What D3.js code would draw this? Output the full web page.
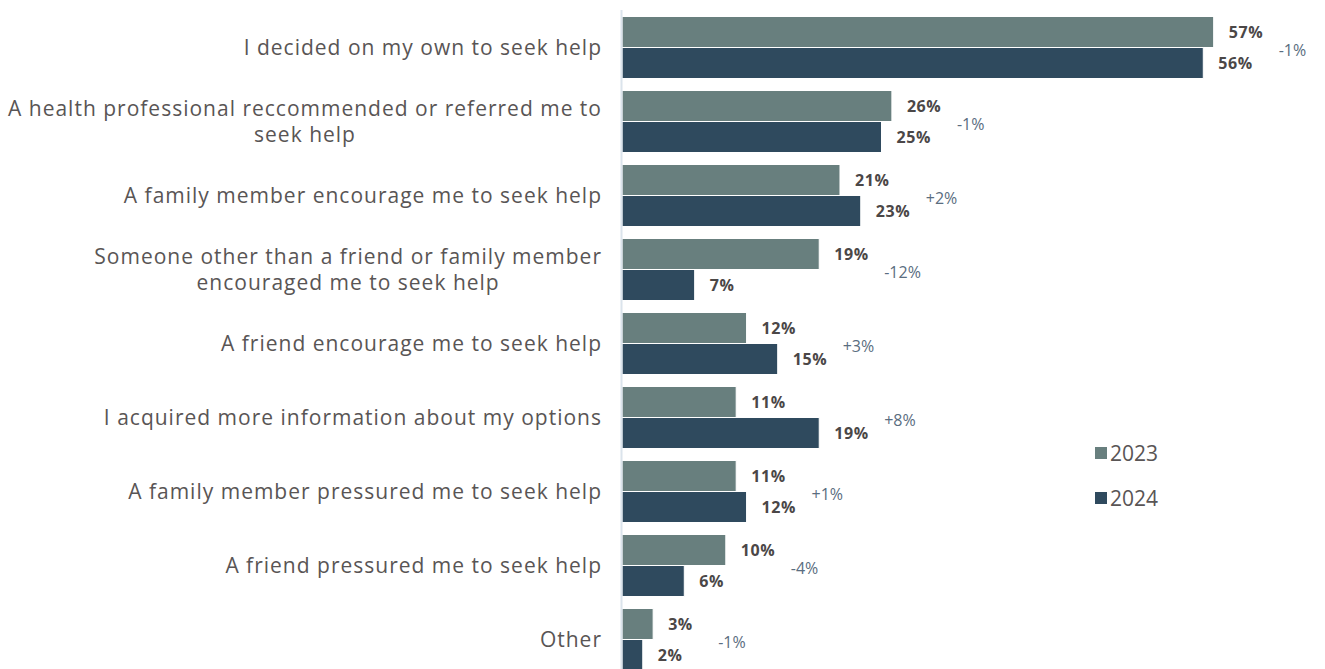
<!DOCTYPE html>
<html>
<head>
<meta charset="utf-8">
<script src="https://cdn.jsdelivr.net/npm/d3@7/dist/d3.min.js"></script>
<style>
  html, body { margin: 0; padding: 0; background: #fff; }
  svg { display: block; font-family: "Open Sans", "DejaVu Sans", sans-serif; }
</style>
</head>
<body>
<svg id="chart" width="1325" height="669"></svg>
<script>
// Reasons for seeking help, share of respondents by survey year
const categories = [
  "I decided on my own to seek help",
  "A health professional reccommended or referred me to\nseek help",
  "A family member encourage me to seek help",
  "Someone other than a friend or family member\nencouraged me to seek help",
  "A friend encourage me to seek help",
  "I acquired more information about my options",
  "A family member pressured me to seek help",
  "A friend pressured me to seek help",
  "Other"
];
const years = ["2023", "2024"];
const values2023 = [57, 26, 21, 19, 12, 11, 11, 10, 3];
const values2024 = [56, 25, 23, 7, 15, 19, 12, 6, 2];
const changeLabels = ["-1%", "-1%", "+2%", "-12%", "+3%", "+8%", "+1%", "-4%", "-1%"];

const colors = { "2023": "#687f7e", "2024": "#2f4a5e" };

const svg = d3.select("#chart");
const plotLeft = 622, plotTop = 10.5, rowStep = 74, labelRight = 602;

const x = d3.scaleLinear().domain([0, 10]).range([plotLeft, plotLeft + 103.8]);
const y = d3.scaleBand()
  .domain(categories)
  .range([plotTop, plotTop + rowStep * categories.length])
  .paddingInner(12 / 74)
  .paddingOuter(6 / 74);
const ySub = d3.scaleBand().domain(years).range([0, y.bandwidth()]);

const rows = categories.map((c, i) => ({
  cat: c,
  vals: [{ year: "2023", v: values2023[i] }, { year: "2024", v: values2024[i] }],
  change: changeLabels[i]
}));

const g = svg.selectAll("g.row").data(rows).join("g")
  .attr("class", "row")
  .attr("transform", d => `translate(0,${y(d.cat)})`);

// bars
g.selectAll("rect").data(d => d.vals).join("rect")
  .attr("x", x(0))
  .attr("y", d => ySub(d.year))
  .attr("width", d => x(d.v) - x(0))
  .attr("height", ySub.bandwidth())
  .attr("fill", d => colors[d.year])
  .attr("stroke", "#ffffff")
  .attr("stroke-width", 1);

// value labels
g.selectAll("text.val").data(d => d.vals).join("text")
  .attr("class", "val")
  .attr("x", d => x(d.v) + 15)
  .attr("y", d => ySub(d.year) + ySub.bandwidth() / 2)
  .attr("dy", "0.36em")
  .attr("font-size", 16)
  .attr("font-weight", 700)
  .attr("letter-spacing", 0.6)
  .attr("fill", "#4b4747")
  .text(d => d.v + "%");

// year-over-year change
g.append("text")
  .attr("x", d => x(Math.max(d.vals[0].v, d.vals[1].v)) + 65)
  .attr("y", y.bandwidth() / 2 + 3)
  .attr("dy", "0.36em")
  .attr("font-size", 16)
  .attr("fill", "#5a6d80")
  .text(d => d.change);

// category labels: single lines right-aligned, wrapped lines centred as a block
g.each(function (d) {
  const lines = d.cat.split("\n");
  const t = d3.select(this).append("text")
    .attr("font-size", 21)
    .attr("letter-spacing", 1)
    .attr("fill", "#595555");
  const lh = 26;
  const spans = lines.map((ln, k) => t.append("tspan")
    .attr("y", y.bandwidth() / 2 + (k - (lines.length - 1) / 2) * lh)
    .attr("dy", "0.36em")
    .text(ln));
  if (lines.length === 1) {
    t.attr("text-anchor", "end");
    spans[0].attr("x", labelRight);
  } else {
    const w = d3.max(spans, s => s.node().getComputedTextLength());
    t.attr("text-anchor", "middle");
    spans.forEach(s => s.attr("x", labelRight - w / 2));
  }
});

// axis line
svg.append("line")
  .attr("x1", x(0) - 0.5).attr("x2", x(0) - 0.5)
  .attr("y1", 10).attr("y2", 669)
  .attr("stroke", "#dbe4ec").attr("stroke-width", 2);

// legend
const legend = svg.append("g").selectAll("g").data(years).join("g")
  .attr("transform", (d, i) => `translate(1095,${453 + i * 45})`);
legend.append("rect")
  .attr("x", 0).attr("y", -6).attr("width", 12).attr("height", 12)
  .attr("fill", d => colors[d]);
legend.append("text")
  .attr("x", 15).attr("y", 0).attr("dy", "0.36em")
  .attr("font-size", 21).attr("fill", "#595555")
  .text(d => d);
</script>
</body>
</html>
